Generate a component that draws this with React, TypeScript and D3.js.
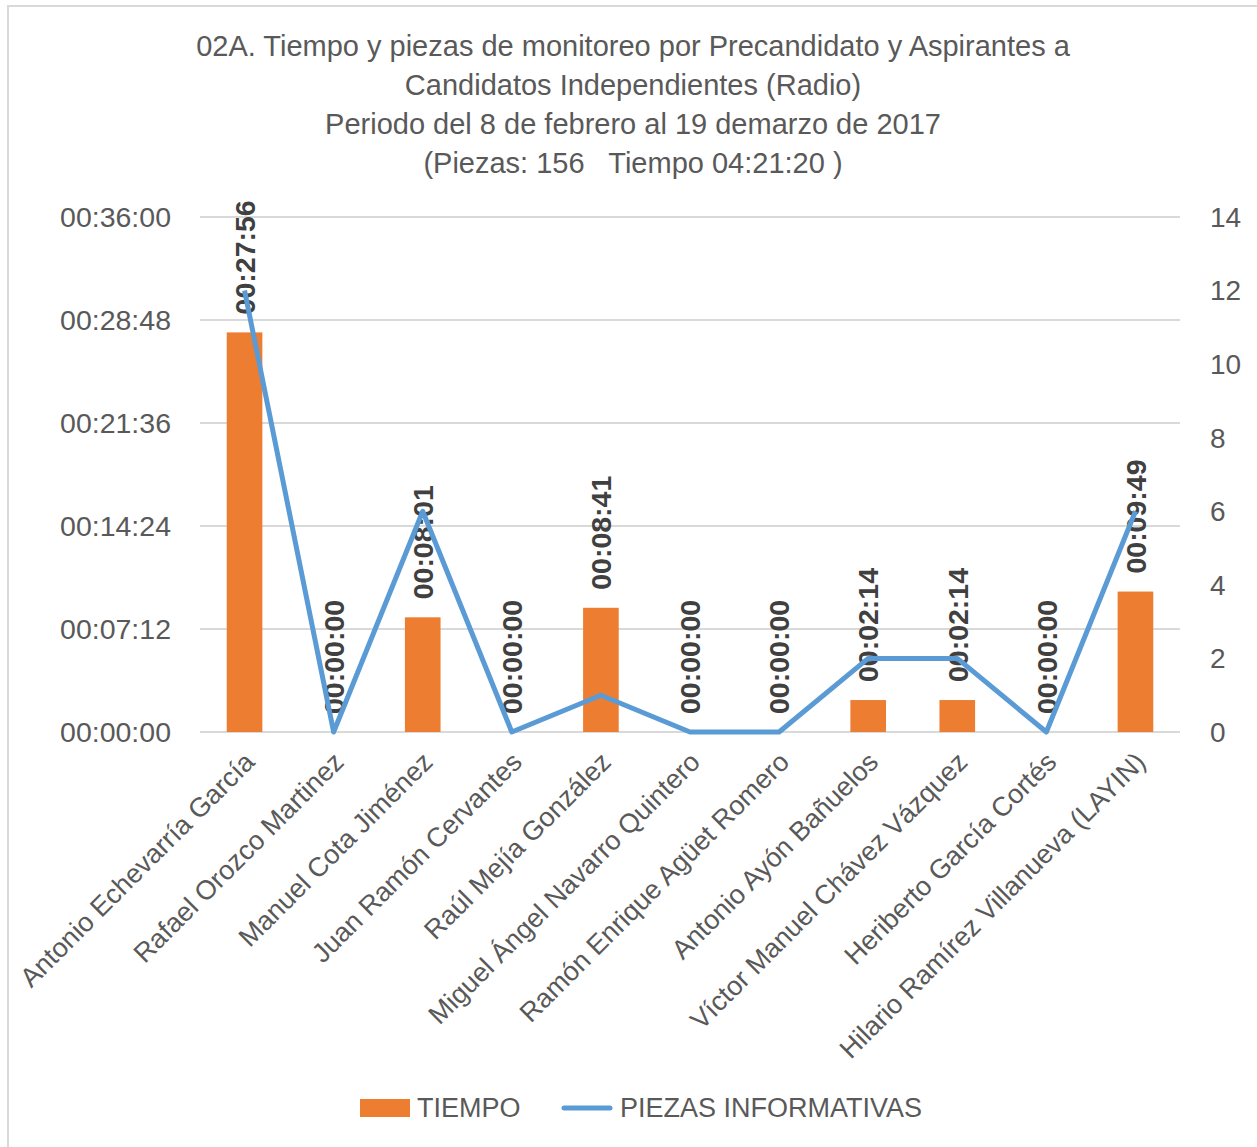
import React, { useEffect, useRef } from "react";
import * as d3 from "d3";

const titleLines = [
  "02A. Tiempo y piezas de monitoreo por Precandidato y Aspirantes a",
  "Candidatos Independientes (Radio)",
  "Periodo del 8 de febrero al 19 demarzo de 2017",
  "(Piezas: 156   Tiempo 04:21:20 )",
];

const candidates = [
  "Antonio Echevarría García",
  "Rafael Orozco Martinez",
  "Manuel Cota Jiménez",
  "Juan Ramón Cervantes",
  "Raúl Mejía González",
  "Miguel Ángel Navarro Quintero",
  "Ramón Enrique Agüet Romero",
  "Antonio Ayón Bañuelos",
  "Víctor Manuel Chávez Vázquez",
  "Heriberto García Cortés",
  "Hilario Ramírez Villanueva (LAYIN)",
];

// tiempo en segundos
const tiempo = [1676, 0, 481, 0, 521, 0, 0, 134, 134, 0, 589];
const piezas = [12, 0, 6, 0, 1, 0, 0, 2, 2, 0, 6];

const timeTicks = [0, 432, 864, 1296, 1728, 2160];
const countTicks = [0, 2, 4, 6, 8, 10, 12, 14];

const fmt = (s: number) => {
  const h = Math.floor(s / 3600);
  const m = Math.floor((s % 3600) / 60);
  const sec = s % 60;
  const p = (n: number) => String(n).padStart(2, "0");
  return `${p(h)}:${p(m)}:${p(sec)}`;
};

const W = 1257;
const H = 1147;
const plot = { left: 200, right: 1180, top: 217, bottom: 732 };
const FONT = "'Liberation Sans', Arial, sans-serif";
const NARROW = "'Liberation Sans Narrow', 'Arial Narrow', 'Liberation Sans', sans-serif";
const TEXT = "#595959";

export default function App() {
  const ref = useRef<SVGSVGElement | null>(null);

  useEffect(() => {
    const svg = d3.select(ref.current);
    svg.selectAll("*").remove();

    svg.append("rect").attr("x", 8).attr("y", 6).attr("width", W + 10).attr("height", H + 10)
      .attr("fill", "#fff").attr("stroke", "#d9d9d9").attr("stroke-width", 2);

    const x = d3.scaleBand<string>().domain(candidates).range([plot.left, plot.right]).paddingInner(0.6).paddingOuter(0.3);
    const y = d3.scaleLinear().domain([0, 2160]).range([plot.bottom, plot.top]);
    const y2 = d3.scaleLinear().domain([0, 14]).range([plot.bottom, plot.top]);
    const cx = (d: string) => (x(d) ?? 0) + x.bandwidth() / 2;

    // title
    svg.append("g").selectAll("text").data(titleLines).join("text")
      .attr("x", 633).attr("y", (_, i) => 46 + i * 39).attr("dy", "0.35em")
      .attr("text-anchor", "middle").attr("font-family", NARROW).attr("font-size", 29)
      .style("white-space", "pre")
      .attr("fill", TEXT).text((d) => d);

    // grid
    svg.append("g").selectAll("line").data(timeTicks).join("line")
      .attr("x1", plot.left).attr("x2", plot.right)
      .attr("y1", (d) => y(d)).attr("y2", (d) => y(d))
      .attr("stroke", "#d9d9d9").attr("stroke-width", 2);

    // left axis labels
    svg.append("g").selectAll("text").data(timeTicks).join("text")
      .attr("x", 171).attr("y", (d) => y(d)).attr("dy", "0.35em")
      .attr("text-anchor", "end").attr("font-family", FONT).attr("font-size", 28.5)
      .attr("fill", TEXT).text((d) => fmt(d));

    // right axis labels
    svg.append("g").selectAll("text").data(countTicks).join("text")
      .attr("x", 1210).attr("y", (d) => y2(d)).attr("dy", "0.35em")
      .attr("text-anchor", "start").attr("font-family", FONT).attr("font-size", 28)
      .attr("fill", TEXT).text((d) => d);

    // bars
    svg.append("g").selectAll("rect").data(candidates).join("rect")
      .attr("x", (d) => x(d) ?? 0).attr("width", x.bandwidth())
      .attr("y", (_, i) => y(tiempo[i])).attr("height", (_, i) => plot.bottom - y(tiempo[i]))
      .attr("fill", "#ed7d31");

    // data labels (under the line)
    svg.append("g").selectAll("text").data(candidates).join("text")
      .attr("transform", (d, i) => `translate(${cx(d)},${y(tiempo[i]) - 18}) rotate(-90)`)
      .attr("dy", "0.36em").attr("text-anchor", "start")
      .attr("font-family", NARROW).attr("font-weight", "bold").attr("font-size", 28.5)
      .attr("fill", "#404040").text((_, i) => fmt(tiempo[i]));

    // line
    const line = d3.line<number>().x((_, i) => cx(candidates[i])).y((d) => y2(d));
    svg.append("path").datum(piezas).attr("d", line).attr("fill", "none")
      .attr("stroke", "#5b9bd5").attr("stroke-width", 5).attr("stroke-linejoin", "round");

    // category labels
    svg.append("g").selectAll("text").data(candidates).join("text")
      .attr("transform", (d) => `translate(${cx(d) + 5},${plot.bottom + 25}) rotate(-45)`)
      .attr("text-anchor", "end").attr("dy", "0.35em")
      .attr("font-family", NARROW).attr("font-size", 27)
      .attr("fill", TEXT).text((d) => d);

    // legend
    const lg = svg.append("g");
    lg.append("rect").attr("x", 360).attr("y", 1099).attr("width", 50).attr("height", 18).attr("fill", "#ed7d31");
    lg.append("text").attr("x", 417).attr("y", 1108).attr("dy", "0.35em")
      .attr("font-family", NARROW).attr("font-size", 27).attr("fill", TEXT).text("TIEMPO");
    lg.append("line").attr("x1", 564).attr("x2", 610).attr("y1", 1108).attr("y2", 1108)
      .attr("stroke", "#5b9bd5").attr("stroke-width", 5).attr("stroke-linecap", "round");
    lg.append("text").attr("x", 620).attr("y", 1108).attr("dy", "0.35em")
      .attr("font-family", NARROW).attr("font-size", 27).attr("fill", TEXT).text("PIEZAS INFORMATIVAS");
  }, []);

  return (
    <svg ref={ref} width={W} height={H} style={{ position: "absolute", left: 0, top: 0 }} />
  );
}
